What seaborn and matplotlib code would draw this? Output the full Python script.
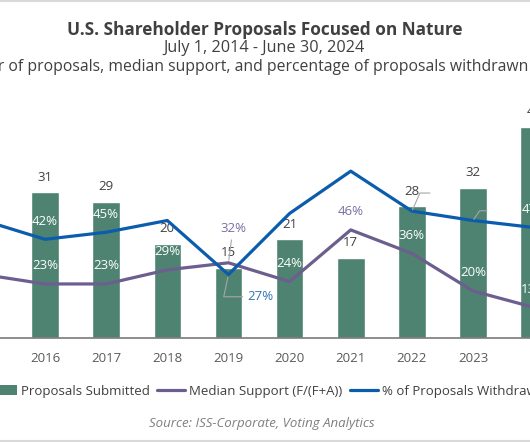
import matplotlib
matplotlib.use("Agg")
import matplotlib.pyplot as plt
import seaborn as sns
import pandas as pd
import numpy as np
from matplotlib.lines import Line2D
from matplotlib.patches import Patch

# ---------------- data ----------------
years = ["2015", "2016", "2017", "2018", "2019", "2020", "2021", "2022", "2023", "2024"]
proposals = [24, 31, 29, 20, 15, 21, 17, 28, 32, 45]
median_support = [27, 23, 23, 29, 32, 24, 46, 36, 20, 13]
withdrawn = [50, 42, 45, 50, 27, 53, 71, 54, 50, 47]

# which labels are shown (year index) and how
median_white = ["2016", "2017", "2018", "2020", "2022", "2023", "2024"]
withdrawn_white = ["2016", "2017", "2024"]

GREEN = "#4E8371"
PURPLE = "#6C5E8E"
BLUE = "#0B5CAD"
DARK = "#404040"
TICK = "#595959"
LEADER = "#A6A6A6"

sns.set_theme(style="white")
plt.rcParams["font.family"] = ["Open Sans", "DejaVu Sans"]

W, H = 530, 442
fig = plt.figure(figsize=(W / 100, H / 100), dpi=100)


def fx(px):
    return px / W


def fy(py):
    return 1 - py / H


base_px, top_px = 338, 103
ax = fig.add_axes([0, fy(base_px), 1, (base_px - top_px) / H])

df = pd.DataFrame({"Year": years, "Proposals": proposals})
sns.barplot(data=df, x="Year", y="Proposals", color=GREEN, width=0.45,
            saturation=1, ax=ax)

ax2 = ax.twinx()
idx = np.arange(len(years))
sns.lineplot(x=idx, y=median_support, color=PURPLE, lw=2.3, ax=ax2)
sns.lineplot(x=idx, y=withdrawn, color=BLUE, lw=2.3, ax=ax2)

# x mapping: 2016 centre at 45px, 61.15 px per year
step = 61.15
ax.set_xlim(1 - 45 / step, 1 + (W - 45) / step)
ax2.set_xlim(ax.get_xlim())
ax.set_ylim(0, 50)
ax2.set_ylim(0, 100)

for a in (ax, ax2):
    for s in ("top", "left", "right"):
        a.spines[s].set_visible(False)
    a.set_yticks([])
    a.set_ylabel("")
    a.set_xlabel("")
    a.grid(False)
ax2.spines["bottom"].set_visible(False)
ax.spines["bottom"].set_color("#7A7A7A")
ax.spines["bottom"].set_linewidth(1.2)
ax.tick_params(axis="x", length=0, pad=10, labelsize=9.5, labelcolor=TICK)
ax.patch.set_alpha(0)

FS = 9.5
# count labels
for i, v in enumerate(proposals):
    ax.annotate(str(v), (i, v), xytext=(0, 11), textcoords="offset points",
                ha="center", va="center", fontsize=FS, color=DARK,
                annotation_clip=False)

# white labels above the lines
for i, (y, v) in enumerate(zip(years, median_support)):
    if y in median_white:
        ax2.annotate(f"{v}%", (i, v), xytext=(0, 13), textcoords="offset points",
                     ha="center", va="center", fontsize=FS, color="white",
                     annotation_clip=False)
for i, (y, v) in enumerate(zip(years, withdrawn)):
    if y in withdrawn_white:
        ax2.annotate(f"{v}%", (i, v), xytext=(0, 13), textcoords="offset points",
                     ha="center", va="center", fontsize=FS, color="white",
                     annotation_clip=False)

# coloured labels
i19 = years.index("2019")
ax2.annotate(f"{median_support[i19]}%", (i19, median_support[i19]),
             xytext=(3.5, 24.5), textcoords="offset points", ha="center",
             va="center", fontsize=FS, color="#7B6DA0",
             arrowprops=dict(arrowstyle="-", color=LEADER, lw=0.8,
                             relpos=(0.45, 0), shrinkA=1, shrinkB=2))
ax2.annotate(f"{withdrawn[i19]}%", (i19, withdrawn[i19]),
             xytext=(23, -16), textcoords="offset points", ha="center",
             va="center", fontsize=FS, color="#2E74B5",
             arrowprops=dict(arrowstyle="-", color=LEADER, lw=0.8,
                             relpos=(0, 0.5), shrinkA=1, shrinkB=2,
                             connectionstyle="angle,angleA=0,angleB=78"))
i21 = years.index("2021")
ax2.annotate(f"{median_support[i21]}%", (i21, median_support[i21]),
             xytext=(0, 13), textcoords="offset points", ha="center",
             va="center", fontsize=FS, color="#7B6DA0")

# leader lines without visible text
for yr, off, ang in (("2022", (13, 13), 66), ("2023", (10, 7), 56)):
    k = years.index(yr)
    ax2.annotate("", (k, withdrawn[k]), xytext=off, textcoords="offset points",
                 arrowprops=dict(arrowstyle="-", color=LEADER, lw=0.8,
                                 shrinkA=0, shrinkB=1,
                                 connectionstyle=f"angle,angleA=0,angleB={ang}"))

# titles
fig.text(fx(265), fy(30), "U.S. Shareholder Proposals Focused on Nature",
         ha="center", va="center", fontsize=12.4, fontweight="bold", color=DARK)
fig.text(fx(264), fy(48.5), "July 1, 2014 - June 30, 2024",
         ha="center", va="center", fontsize=11.7, color=DARK)
fig.text(fx(528), fy(67),
         "Number of proposals, median support, and percentage of proposals withdrawn",
         ha="right", va="center", fontsize=11.3, color=DARK)

# legend
handles = [Patch(facecolor=GREEN, edgecolor="none"),
           Line2D([], [], color=PURPLE, lw=2.3),
           Line2D([], [], color=BLUE, lw=2.3)]
labels = ["Proposals Submitted", "Median Support (F/(F+A))",
          "% of Proposals Withdrawn"]
fig.legend(handles, labels, loc="center", bbox_to_anchor=(fx(267), fy(391)),
           ncol=3, frameon=False, handlelength=2.1, handletextpad=0.3,
           columnspacing=0.6, fontsize=FS, labelcolor=DARK)

fig.text(fx(262), fy(424), "Source: ISS-Corporate, Voting Analytics",
         ha="center", va="center", fontsize=FS, style="italic", color="#7F7F7F")

# frame lines (top / bottom)
for yy in (0.5, 440.5):
    fig.add_artist(Line2D([0, 1], [fy(yy), fy(yy)], transform=fig.transFigure,
                          color="#D9D9D9", lw=1.5))

fig.savefig("out.png", dpi=100)
